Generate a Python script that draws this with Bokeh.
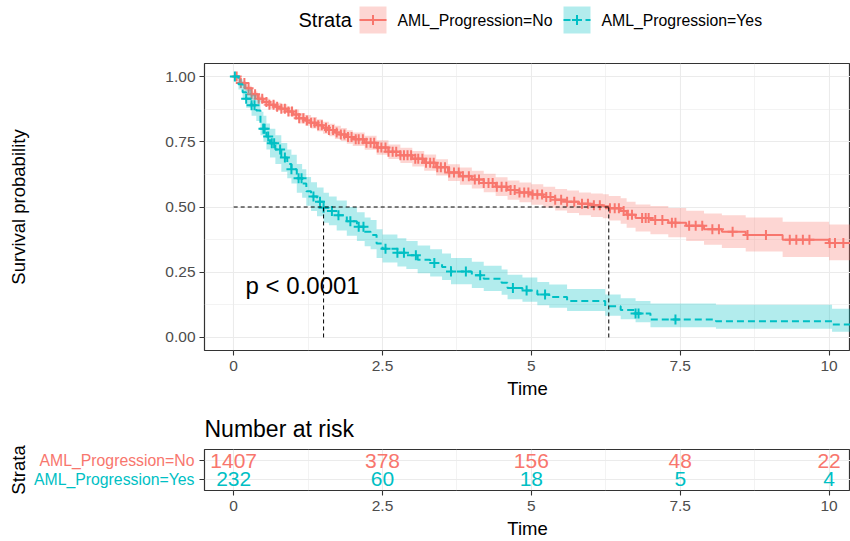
import numpy as np
from bokeh.plotting import figure
from bokeh.layouts import column, row
from bokeh.models import (ColumnDataSource, FixedTicker, Label, Range1d)
from bokeh.core.properties import value
from bokeh.embed import file_html
from bokeh.resources import INLINE

FONT = "Liberation Sans"
RED = "#F8766D"
TEAL = "#00BFC4"
GRID = "#EBEBEB"
DARK = "#333333"
TICK_TXT = "#4D4D4D"

# ---- Kaplan-Meier estimate, AML_Progression=No ----
no_time = [0, 0.1, 0.2, 0.3, 0.4, 0.5, 0.6, 0.7, 0.8, 0.9, 1.0, 1.1, 1.2, 1.3, 1.4,
           1.5, 1.6, 1.7, 1.8, 1.9, 2.0, 2.2, 2.4, 2.6, 2.8, 3.0, 3.2, 3.4, 3.6, 3.8,
           4.0, 4.2, 4.4, 4.6, 4.8, 5.0, 5.2, 5.4, 5.6, 5.8, 6.0, 6.2, 6.30, 6.5, 6.6,
           6.75, 7.0, 7.3, 7.6, 7.9, 8.2, 8.6, 9.22, 10.0, 10.4]
no_surv = [1.000, 0.975, 0.955, 0.932, 0.915, 0.902, 0.892, 0.884, 0.877, 0.866,
           0.855, 0.840, 0.832, 0.823, 0.813, 0.804, 0.795, 0.786, 0.778, 0.768,
           0.760, 0.746, 0.728, 0.712, 0.698, 0.685, 0.670, 0.652, 0.632, 0.618,
           0.605, 0.592, 0.578, 0.565, 0.556, 0.548, 0.538, 0.528, 0.520, 0.512,
           0.507, 0.503, 0.495, 0.485, 0.470, 0.458, 0.450, 0.440, 0.428, 0.415,
           0.405, 0.393, 0.374, 0.362, 0.362]
no_lower = [1.000, 0.967, 0.945, 0.921, 0.903, 0.888, 0.877, 0.868, 0.860, 0.848,
            0.836, 0.820, 0.811, 0.801, 0.790, 0.781, 0.771, 0.761, 0.753, 0.742,
            0.734, 0.719, 0.700, 0.684, 0.669, 0.655, 0.639, 0.621, 0.600, 0.585,
            0.571, 0.557, 0.542, 0.528, 0.518, 0.509, 0.498, 0.487, 0.477, 0.468,
            0.462, 0.457, 0.448, 0.436, 0.420, 0.406, 0.396, 0.384, 0.370, 0.355,
            0.343, 0.329, 0.308, 0.296, 0.296]
no_upper = [1.000, 0.983, 0.965, 0.943, 0.927, 0.916, 0.907, 0.900, 0.894, 0.884,
            0.874, 0.860, 0.853, 0.845, 0.836, 0.827, 0.819, 0.811, 0.803, 0.794,
            0.786, 0.773, 0.756, 0.740, 0.727, 0.715, 0.701, 0.683, 0.664, 0.651,
            0.639, 0.627, 0.614, 0.602, 0.594, 0.587, 0.578, 0.569, 0.563, 0.556,
            0.552, 0.549, 0.542, 0.534, 0.520, 0.510, 0.504, 0.496, 0.486, 0.475,
            0.468, 0.460, 0.443, 0.433, 0.433]
no_censor = [0.05, 0.12, 0.18, 0.25, 0.30, 0.36, 0.42, 0.48, 0.55, 0.60, 0.67, 0.73,
             0.80, 0.86, 0.92, 0.98, 1.05, 1.10, 1.17, 1.23, 1.30, 1.36, 1.42, 1.48,
             1.55, 1.60, 1.67, 1.73, 1.80, 1.86, 1.92, 1.98, 2.05, 2.10, 2.17, 2.23,
             2.30, 2.36, 2.42, 2.48, 2.55, 2.60, 2.67, 2.73, 2.80, 2.86, 2.92, 2.98,
             3.05, 3.10, 3.17, 3.23, 3.30, 3.36, 3.42, 3.48, 3.55, 3.62, 3.70, 3.78,
             3.85, 3.95, 4.05, 4.12, 4.20, 4.28, 4.35, 4.42, 4.50, 4.58, 4.65, 4.72,
             4.80, 4.88, 4.95, 5.02, 5.10, 5.18, 5.25, 5.32, 5.40, 5.50, 5.60, 5.72,
             5.85, 5.95, 6.05, 6.15, 6.32, 6.40, 6.47, 6.55, 6.62, 6.69, 6.86, 6.92,
             6.97, 7.08, 7.20, 7.36, 7.42, 7.65, 7.76, 7.87, 8.04, 8.15, 8.38, 8.63,
             8.94, 9.34, 9.45, 9.56, 9.67, 10.01, 10.10, 10.24, 10.38]

# ---- Kaplan-Meier estimate, AML_Progression=Yes ----
yes_time = [0, 0.08, 0.15, 0.21, 0.30, 0.38, 0.45, 0.50, 0.55, 0.61, 0.70, 0.80,
            0.90, 0.97, 1.06, 1.15, 1.22, 1.30, 1.40, 1.51, 1.60, 1.73, 1.90, 2.07,
            2.20, 2.30, 2.40, 2.50, 2.75, 2.90, 3.09, 3.30, 3.50, 3.65, 4.00, 4.20,
            4.50, 4.60, 4.85, 5.10, 5.30, 5.60, 6.24, 6.50, 6.75, 7.00, 8.10, 10.05,
            10.4]
yes_surv = [1.000, 0.970, 0.940, 0.915, 0.890, 0.870, 0.820, 0.800, 0.770, 0.744,
            0.720, 0.690, 0.665, 0.645, 0.610, 0.590, 0.560, 0.540, 0.520, 0.497,
            0.485, 0.468, 0.445, 0.424, 0.405, 0.393, 0.360, 0.340, 0.325, 0.315,
            0.298, 0.285, 0.270, 0.253, 0.238, 0.225, 0.210, 0.190, 0.180, 0.165,
            0.155, 0.140, 0.120, 0.105, 0.092, 0.069, 0.062, 0.050, 0.050]
yes_lower = [1.000, 0.950, 0.910, 0.880, 0.850, 0.830, 0.775, 0.750, 0.720, 0.690,
             0.665, 0.635, 0.610, 0.590, 0.555, 0.535, 0.505, 0.485, 0.465, 0.440,
             0.430, 0.410, 0.390, 0.370, 0.350, 0.338, 0.305, 0.287, 0.272, 0.262,
             0.246, 0.234, 0.220, 0.204, 0.190, 0.178, 0.164, 0.146, 0.137, 0.123,
             0.114, 0.101, 0.083, 0.070, 0.058, 0.039, 0.033, 0.022, 0.022]
yes_upper = [1.000, 0.990, 0.970, 0.950, 0.930, 0.910, 0.865, 0.850, 0.820, 0.800,
             0.775, 0.745, 0.720, 0.700, 0.665, 0.645, 0.615, 0.595, 0.575, 0.555,
             0.540, 0.525, 0.500, 0.480, 0.460, 0.450, 0.415, 0.395, 0.380, 0.370,
             0.352, 0.338, 0.322, 0.305, 0.290, 0.275, 0.260, 0.240, 0.230, 0.213,
             0.203, 0.186, 0.165, 0.150, 0.140, 0.130, 0.125, 0.110, 0.110]
yes_censor = [0.02, 0.21, 0.30, 0.35, 0.50, 0.52, 0.58, 0.64, 0.68, 0.78, 0.86, 0.97,
              1.09, 1.14, 1.34, 1.45, 1.51, 1.65, 1.76, 1.96, 2.10, 2.18, 2.55, 2.75,
              2.86, 3.06, 3.37, 3.65, 3.90, 4.14, 4.69, 4.92, 5.23, 6.75, 6.80, 7.42]

# median survival times (S(t) = 0.5)
median_times = [6.30, 1.51]

# number at risk table
risk_times = [0, 2.5, 5, 7.5, 10]
risk_no = [1407, 378, 156, 48, 22]
risk_yes = [232, 60, 18, 5, 4]

strata_labels = ["AML_Progression=No", "AML_Progression=Yes"]
x_ticks = [0, 2.5, 5, 7.5, 10]
x_tick_labels = ["0", "2.5", "5", "7.5", "10"]
y_ticks = [0, 0.25, 0.5, 0.75, 1.0]
y_tick_labels = ["0.00", "0.25", "0.50", "0.75", "1.00"]
p_value_text = "p < 0.0001"

X_RANGE = (-0.49, 10.36)
STYLES = [(RED, None), (TEAL, "7 4")]
LEFT = 204   # width reserved left of the plotting panels, px


def step_value(times, surv, t):
    idx = np.searchsorted(np.asarray(times), np.asarray(t), side="right") - 1
    return np.asarray(surv)[idx]


def line_kwargs(color, dash):
    kw = dict(line_color=color, line_width=2)
    if dash:
        kw["line_dash"] = dash
    return kw


def style_axes(fig):
    fig.outline_line_color = DARK
    fig.outline_line_width = 1.2
    fig.background_fill_color = "white"
    fig.border_fill_color = "white"
    for ax in (fig.xaxis[0], fig.yaxis[0]):
        ax.axis_line_color = None
        ax.major_tick_line_color = DARK
        ax.major_tick_line_width = 1.1
        ax.major_tick_out = 5
        ax.major_tick_in = 0
        ax.minor_tick_line_color = None
        ax.major_label_text_font = FONT
        ax.major_label_text_font_size = "15.5px"
        ax.major_label_text_color = TICK_TXT
        ax.axis_label_text_font = FONT
        ax.axis_label_text_font_size = "18.5px"
        ax.axis_label_text_font_style = "normal"
        ax.axis_label_text_color = "black"
    fig.xaxis.ticker = FixedTicker(ticks=x_ticks, minor_ticks=[1.25, 3.75, 6.25, 8.75])
    fig.xaxis.major_label_overrides = dict(zip(x_ticks, x_tick_labels))
    fig.xaxis.major_label_standoff = 5
    fig.xgrid.grid_line_color = GRID
    fig.xgrid.grid_line_width = 1.1
    fig.xgrid.minor_grid_line_color = GRID
    fig.xgrid.minor_grid_line_width = 0.6
    fig.ygrid.grid_line_color = GRID
    fig.ygrid.grid_line_width = 1.1


# ================= legend strip (pixel coordinates) =================
top = figure(width=850, height=45, x_range=Range1d(LEFT, 850), y_range=Range1d(0, 45),
             output_backend="svg", toolbar_location=None, min_border_left=LEFT,
             min_border_right=0, min_border_top=0, min_border_bottom=0,
             x_axis_type=None, y_axis_type=None)
top.grid.visible = False
top.outline_line_color = None
top.border_fill_color = "white"
KEY = 27                       # key square size, px
key_centers = [372.5, 576.5]   # x centres of the two keys
key_y = 25.5
top.text(x=[298], y=[key_y], text=["Strata"], text_baseline="middle",
         text_font_size="20px", text_color="black", text_font=value(FONT))
for xc, label, (color, dash) in zip(key_centers, strata_labels, STYLES):
    top.rect(x=[xc], y=[key_y], width=KEY, height=KEY, fill_color=color,
             fill_alpha=0.3, line_color=None)
    top.segment(x0=[xc - KEY / 2], y0=[key_y], x1=[xc + KEY / 2], y1=[key_y],
                **line_kwargs(color, dash))
    top.scatter(x=[xc], y=[key_y], marker="cross", size=10, line_color=color,
                line_width=2)
    top.text(x=[xc + KEY / 2 + 11], y=[key_y], text=[label], text_baseline="middle",
             text_font_size="15.8px", text_color="black", text_font=value(FONT))

# ================= survival curves =================
p = figure(width=850, height=360, x_range=Range1d(*X_RANGE),
           y_range=Range1d(-0.05, 1.05), output_backend="svg",
           toolbar_location=None, min_border_left=LEFT, min_border_right=0,
           min_border_top=18, min_border_bottom=55)
style_axes(p)
p.yaxis.ticker = FixedTicker(ticks=y_ticks, minor_ticks=[0.125, 0.375, 0.625, 0.875])
p.yaxis.major_label_overrides = dict(zip(y_ticks, y_tick_labels))
p.yaxis.major_label_standoff = 4
p.ygrid.minor_grid_line_color = GRID
p.ygrid.minor_grid_line_width = 0.6
p.xaxis.axis_label = "Time"
p.xaxis.axis_label_standoff = 4
p.yaxis.axis_label = "Survival probability"
p.yaxis.axis_label_standoff = 133

groups = [
    (no_time, no_surv, no_lower, no_upper, no_censor),
    (yes_time, yes_surv, yes_lower, yes_upper, yes_censor),
]
for (color, dash), (t, s, lo, hi, cens) in zip(STYLES, groups):
    src = ColumnDataSource(dict(time=t, surv=s, lower=lo, upper=hi))
    p.varea_step(x="time", y1="lower", y2="upper", step_mode="after",
                 fill_color=color, fill_alpha=0.3, source=src)
    p.step(x="time", y="surv", mode="after", source=src, **line_kwargs(color, dash))
    csrc = ColumnDataSource(dict(time=cens, surv=step_value(t, s, cens)))
    p.scatter(x="time", y="surv", marker="cross", size=10, line_color=color,
              line_width=2, source=csrc)

# median survival guide lines
p.segment(x0=[0], y0=[0.5], x1=[max(median_times)], y1=[0.5],
          line_color="black", line_width=1, line_dash="4 3")
p.segment(x0=median_times, y0=[0] * len(median_times), x1=median_times,
          y1=[0.5] * len(median_times), line_color="black", line_width=1,
          line_dash="4 3")

p.add_layout(Label(x=0.2, y=0.2, text=p_value_text, text_font=FONT,
                   text_font_size="24px", text_baseline="middle",
                   text_color="black"))

# ================= number at risk =================
risk_y = Range1d(0.4, 2.6)
r = figure(width=652, height=136, x_range=Range1d(*X_RANGE), y_range=risk_y,
           output_backend="svg", toolbar_location=None, title="Number at risk",
           min_border_left=6, min_border_right=0, min_border_top=44,
           min_border_bottom=50)
style_axes(r)
r.title.text_font = FONT
r.title.text_font_size = "23px"
r.title.text_font_style = "normal"
r.title.text_color = "black"
r.title.standoff = 16
r.xaxis.axis_label = "Time"
r.xaxis.axis_label_standoff = 4
r.yaxis.ticker = FixedTicker(ticks=[1, 2])
r.yaxis.major_label_overrides = {1: "", 2: ""}
r.yaxis.major_label_standoff = 0
r.ygrid.minor_grid_line_color = None

# strata names column to the left of the table
lab = figure(width=198, height=136, x_range=Range1d(0, 1), y_range=risk_y,
             output_backend="svg", toolbar_location=None, min_border_left=30,
             min_border_right=0, min_border_top=44, min_border_bottom=50,
             x_axis_type=None)
lab.outline_line_color = None
lab.grid.visible = False
lab.border_fill_color = "white"
ly = lab.yaxis[0]
ly.ticker = FixedTicker(ticks=[])
ly.axis_line_color = None
ly.major_tick_out = 0
ly.major_tick_in = 0
ly.major_label_standoff = 0
ly.axis_label = "Strata"
ly.axis_label_standoff = 2
ly.axis_label_text_font = FONT
ly.axis_label_text_font_size = "18.5px"
ly.axis_label_text_font_style = "normal"
ly.axis_label_text_color = "black"

rows = [(2, RED, risk_no, strata_labels[0]), (1, TEAL, risk_yes, strata_labels[1])]
for yrow, color, counts, label in rows:
    r.text(x=risk_times, y=[yrow] * len(risk_times), text=[str(n) for n in counts],
           text_align="center", text_baseline="middle", text_font_size="21px",
           text_color=color, text_font=value(FONT))
    lab.text(x=[1], y=[yrow], text=[label], x_offset=-4, text_align="right",
             text_baseline="middle", text_font_size="15.8px", text_color=color,
             text_font=value(FONT))

layout = column(top, p, row(lab, r, spacing=0), spacing=0)
open("out.html", "w").write(file_html(layout, INLINE))
